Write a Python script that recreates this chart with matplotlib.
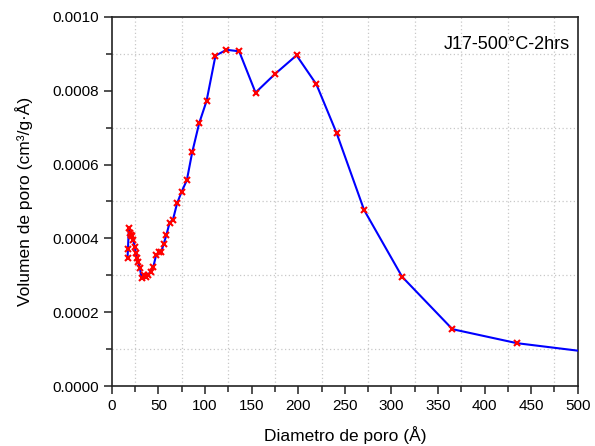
import matplotlib
matplotlib.use("Agg")
from matplotlib import pyplot as plt
from matplotlib.ticker import MultipleLocator, FormatStrFormatter

plt.rcParams['font.family'] = ['Liberation Sans', 'DejaVu Sans']

# pore diameter (Å) and pore volume (cm3/g·Å)
diam = [16.8, 17.3, 18.2, 19.3, 20.5, 21.8, 23.0, 24.5, 25.8, 26.8,
        28.2, 30.0, 31.9, 34.0, 36.5, 39.0, 41.5, 44.5, 47.5, 50.5,
        53.0, 55.5, 58.5, 62.0, 65.5, 70.0, 74.8, 80.5, 86.2, 93.7,
        101.6, 111.2, 123.0, 136.6, 154.2, 174.9, 198.2, 219.6, 241.1, 270.7,
        311.5, 365.5, 434.9, 530.0]
vol_e4 = [3.46, 3.72, 4.28, 4.15, 4.10, 4.07, 3.95, 3.77, 3.60, 3.47,
          3.37, 3.20, 2.93, 3.00, 2.96, 3.02, 3.10, 3.23, 3.55, 3.62,
          3.64, 3.84, 4.09, 4.43, 4.50, 4.95, 5.26, 5.58, 6.33, 7.12,
          7.72, 8.95, 9.11, 9.07, 7.95, 8.45, 8.96, 8.17, 6.86, 4.77,
          2.96, 1.54, 1.16, 0.865]
vol = [v * 1e-4 for v in vol_e4]

fig = plt.figure(figsize=(5.95, 4.46), dpi=100)
ax = fig.add_axes([0.188, 0.1345, 0.783, 0.8275])

ax.plot(diam, vol, color="#0000ff", lw=1.5, marker="x", ms=4,
        mec="red", mew=1.5, zorder=3)

ax.set_xlim(0, 500)
ax.set_ylim(0, 0.001)
ax.xaxis.set_major_locator(MultipleLocator(50))
ax.xaxis.set_minor_locator(MultipleLocator(25))
ax.yaxis.set_major_locator(MultipleLocator(0.0002))
ax.yaxis.set_minor_locator(MultipleLocator(0.0001))
ax.yaxis.set_major_formatter(FormatStrFormatter('%.4f'))

ax.grid(which="minor", linestyle=(0, (1, 2)), color="#c8c8c8", lw=0.9)
ax.tick_params(which="major", direction="out", length=6, width=1.2, labelsize=11,
               color="#333333")
ax.tick_params(which="minor", direction="out", length=4, width=1.2, color="#333333")
ax.tick_params(top=False, right=False, which="both")
for s in ax.spines.values():
    s.set_linewidth(1.2)
    s.set_color("#222222")

ax.set_xlabel("Diametro de poro (Å)", fontsize=12.5, labelpad=9)
ax.set_ylabel("Volumen de poro (cm³/g·Å)", fontsize=12.5, labelpad=14)
ax.text(0.982, 0.925, "J17-500°C-2hrs", transform=ax.transAxes,
        ha="right", va="center", fontsize=13)

fig.savefig("out.png", dpi=100)
